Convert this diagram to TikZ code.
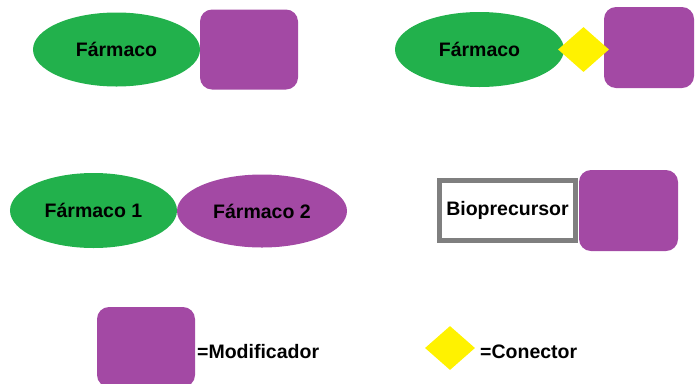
\documentclass[tikz,border=0pt]{standalone}
\usepackage{fontspec}
\setmainfont{Liberation Sans}
\usetikzlibrary{shapes.geometric}

\definecolor{drugcol}{HTML}{22B14C}
\definecolor{modcol}{HTML}{A349A4}
\definecolor{linkcol}{HTML}{FFF200}
\definecolor{framecol}{HTML}{7F7F7F}

\begin{document}
\begin{tikzpicture}[
  x=1bp,y=-1bp,
  font=\bfseries\fontsize{19.5bp}{23bp}\selectfont,
  drug/.style={ellipse,fill=drugcol,draw=none,inner sep=0pt},
  drugtwo/.style={drug,fill=modcol},
  modifier/.style={rectangle,rounded corners=12bp,fill=modcol,draw=none,inner sep=0pt},
  connector/.style={diamond,fill=linkcol,draw=none,inner sep=0pt,aspect=1},
  precursor/.style={rectangle,draw=framecol,line width=5bp,fill=white,inner sep=0pt},
  legendtext/.style={anchor=base west,inner sep=0pt},
]

% Row heights (y grows downwards, 1 unit = 1 pixel of the original).
\def\rowA{49.5}   \def\rowB{211}   \def\rowC{348}

\useasboundingbox (0,0) rectangle (695,383);

% ---------------- top left: drug + modifier ----------------
\node[drug,minimum width=167bp,minimum height=74bp] (F1) at (116.5,\rowA) {Fármaco};
\node[modifier,minimum width=98bp,minimum height=80bp] (M1) at (249,\rowA) {};

% ---------------- top right: drug + connector + modifier ----------------
\node[drug,minimum width=169bp,minimum height=75bp] (F2) at (479.5,\rowA) {Fármaco};
\node[modifier,minimum width=90bp,minimum height=81bp] (M2) at (649,47.5) {};
\node[connector,minimum width=51bp,minimum height=45bp] (C1) at (583.5,\rowA) {};

% ---------------- middle left: two drugs ----------------
\node[drug,minimum width=167bp,minimum height=75bp] (D1) at (93.5,210.5) {Fármaco 1};
\node[drugtwo,minimum width=170bp,minimum height=73bp] (D2) at (262,\rowB) {Fármaco 2};

% ---------------- middle right: bioprecursor ----------------
\node[precursor,minimum width=136bp,minimum height=60bp] (B1) at (507.5,210.5) {Bioprecursor};
\node[modifier,minimum width=99bp,minimum height=81bp] (M3) at (628.5,210.5) {};

% ---------------- legend ----------------
\node[modifier,minimum width=98bp,minimum height=80bp] (M4) at (146,347) {};
\node[legendtext] (modlabel) at (197,358) {=Modificador};
\node[connector,minimum width=50bp,minimum height=44bp] (C2) at (450,\rowC) {};
\node[legendtext] (conlabel) at (480,358.5) {=Conector};

\end{tikzpicture}
\end{document}
